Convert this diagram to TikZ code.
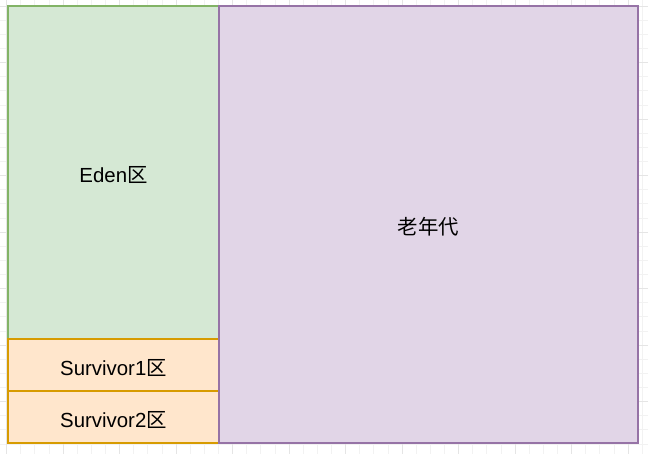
\documentclass[tikz,border=0pt]{standalone}
\usepackage{fontspec}
\setmainfont{Liberation Sans}
\newfontfamily\cjk{Noto Sans CJK SC}
\usetikzlibrary{positioning}
\definecolor{edenFill}{HTML}{D5E8D4}
\definecolor{edenLine}{HTML}{82B366}
\definecolor{survFill}{HTML}{FFE6CC}
\definecolor{survLine}{HTML}{D79B00}
\definecolor{oldFill}{HTML}{E1D5E7}
\definecolor{oldLine}{HTML}{9673A6}
% labels sit a touch below the box centre
\newcommand{\boxlabel}[1]{\raisebox{-2pt}[\height][\depth]{#1}}
\tikzset{
  region/.style={draw, line width=1.1pt, inner sep=0pt, outer sep=0pt,
                 align=center, font=\fontsize{15.3}{18}\selectfont},
  eden/.style={region, fill=edenFill, draw=edenLine},
  survivor/.style={region, fill=survFill, draw=survLine},
  oldgen/.style={region, fill=oldFill, draw=oldLine},
  gridminor/.style={draw=black!5, line width=0.5pt},
  gridmajor/.style={draw=black!10, line width=0.5pt},
}

\begin{document}
\begin{tikzpicture}[x=0.75pt, y=-0.75pt]
  \useasboundingbox (0,0) rectangle (648,454);
  \fill[white] (0,0) rectangle (648,454);
  % ================= background grid =================
  \foreach \i in {0,...,45} {
    \draw[gridminor] ({6.5+14.125*\i},0) -- ({6.5+14.125*\i},454);
  }
  \foreach \j in {0,...,32} {
    \draw[gridminor] (0,{6+14.125*\j}) -- (648,{6+14.125*\j});
  }
  \foreach \i in {0,...,11} {
    \draw[gridmajor] ({6.5+56.5*\i},0) -- ({6.5+56.5*\i},454);
  }
  \foreach \j in {0,...,8} {
    \draw[gridmajor] (0,{6+56.5*\j}) -- (648,{6+56.5*\j});
  }
  % ================= young generation =================
  \node[eden, anchor=north west, minimum width=158.25pt, minimum height=249.75pt]
    (eden) at (8,6) {\boxlabel{Eden{\cjk 区}}};
  \node[survivor, below=0pt of eden, minimum width=158.25pt, minimum height=39pt]
    (surv1) {\boxlabel{Survivor1{\cjk 区}}};
  \node[survivor, below=0pt of surv1, minimum width=158.25pt, minimum height=39pt]
    (surv2) {\boxlabel{Survivor2{\cjk 区}}};
  % ================= old generation =================
  \node[oldgen, anchor=north west, minimum width=314.25pt, minimum height=327.75pt]
    (old) at (eden.north east) {\boxlabel{\cjk 老年代}};
\end{tikzpicture}
\end{document}
